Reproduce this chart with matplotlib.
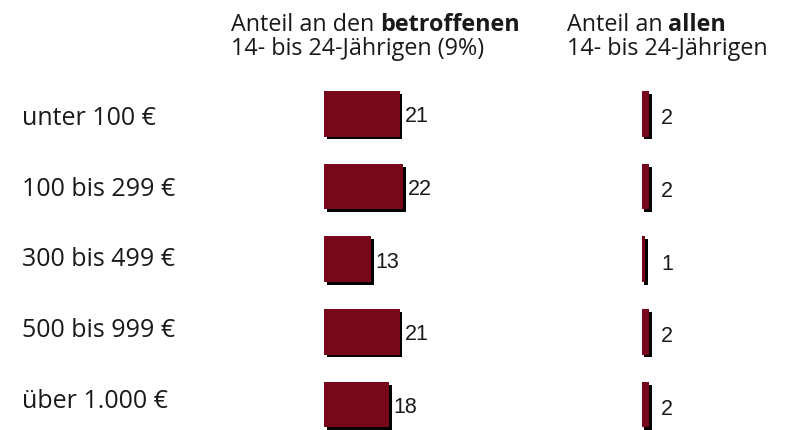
import matplotlib
matplotlib.use("Agg")
import matplotlib.pyplot as plt
import matplotlib.patheffects as pe
import numpy as np

# Ausgaben-Kategorien und Anteile (in %)
categories = ["unter 100 €", "100 bis 299 €", "300 bis 499 €", "500 bis 999 €", "über 1.000 €"]
share_affected = [21, 22, 13, 21, 18]   # Anteil an den betroffenen 14- bis 24-Jährigen
share_all = [2, 2, 1, 2, 2]             # Anteil an allen 14- bis 24-Jährigen

BAR_COLOR = "#77081b"
TEXT_COLOR = "#1a1a1a"
W, H = 787, 430
PX_PER_UNIT = 3.6

fig = plt.figure(figsize=(W / 100, H / 100), dpi=100)
fig.patch.set_facecolor("white")

rows = np.arange(len(categories))
# axes run from y=80px down to the bottom edge; row i sits at 113.8 + 72.7*i px
ylim = ((H - 113.8) / 72.7, (80 - 113.8) / 72.7)


def bar_axes(left_px, width_px):
    ax = fig.add_axes([left_px / W, 0, width_px / W, (H - 80) / H])
    ax.set_xlim(0, width_px / PX_PER_UNIT)
    ax.set_ylim(*ylim)
    ax.axis("off")
    return ax


shadow = [pe.SimplePatchShadow(offset=(2, -2), shadow_rgbFace="black", alpha=1.0), pe.Normal()]

ax1 = bar_axes(324, 250)
bars1 = ax1.barh(rows, share_affected, height=0.625, color=BAR_COLOR, linewidth=0)
ax2 = bar_axes(641.7, 140)
bars2 = ax2.barh(rows, share_all, height=0.625, color=BAR_COLOR, linewidth=0)
for b in list(bars1) + list(bars2):
    b.set_path_effects(shadow)

val_font = dict(family="Liberation Sans", fontsize=15.5, color=TEXT_COLOR)
for i, v in enumerate(share_affected):
    ax1.annotate(str(v), xy=(v, i), xytext=(5, -3), textcoords="offset pixels",
                 ha="left", va="center", **val_font)
for i, v in enumerate(share_all):
    ax2.annotate(str(v), xy=(max(share_all), i), xytext=(12, -5), textcoords="offset pixels",
                 ha="left", va="center", **val_font)

# Kategorien links
cat_font = dict(family="Open Sans", fontsize=18, color=TEXT_COLOR)
for i, c in enumerate(categories):
    fig.text(22 / W, 1 - (125 + 70.75 * i) / H, c, ha="left", va="baseline", **cat_font)

# Spaltenköpfe mit fettem Schlüsselwort
head_font = dict(family="Open Sans", fontsize=16.8, color=TEXT_COLOR)


def header(x_px, plain, bold, second):
    t = fig.text(x_px / W, 1 - 30.7 / H, plain, ha="left", va="baseline", **head_font)
    fig.add_artist(plt.Annotation(bold, xy=(1, 0), xycoords=t, xytext=(4.4, 0),
                                  textcoords="offset points", ha="left", va="bottom",
                                  fontweight="bold", **head_font))
    fig.text(x_px / W, 1 - 55 / H, second, ha="left", va="baseline", **head_font)


header(231, "Anteil an den", "betroffenen", "14- bis 24-Jährigen (9%)")
header(566.7, "Anteil an", "allen", "14- bis 24-Jährigen")

fig.savefig("out.png", dpi=100, facecolor="white")
